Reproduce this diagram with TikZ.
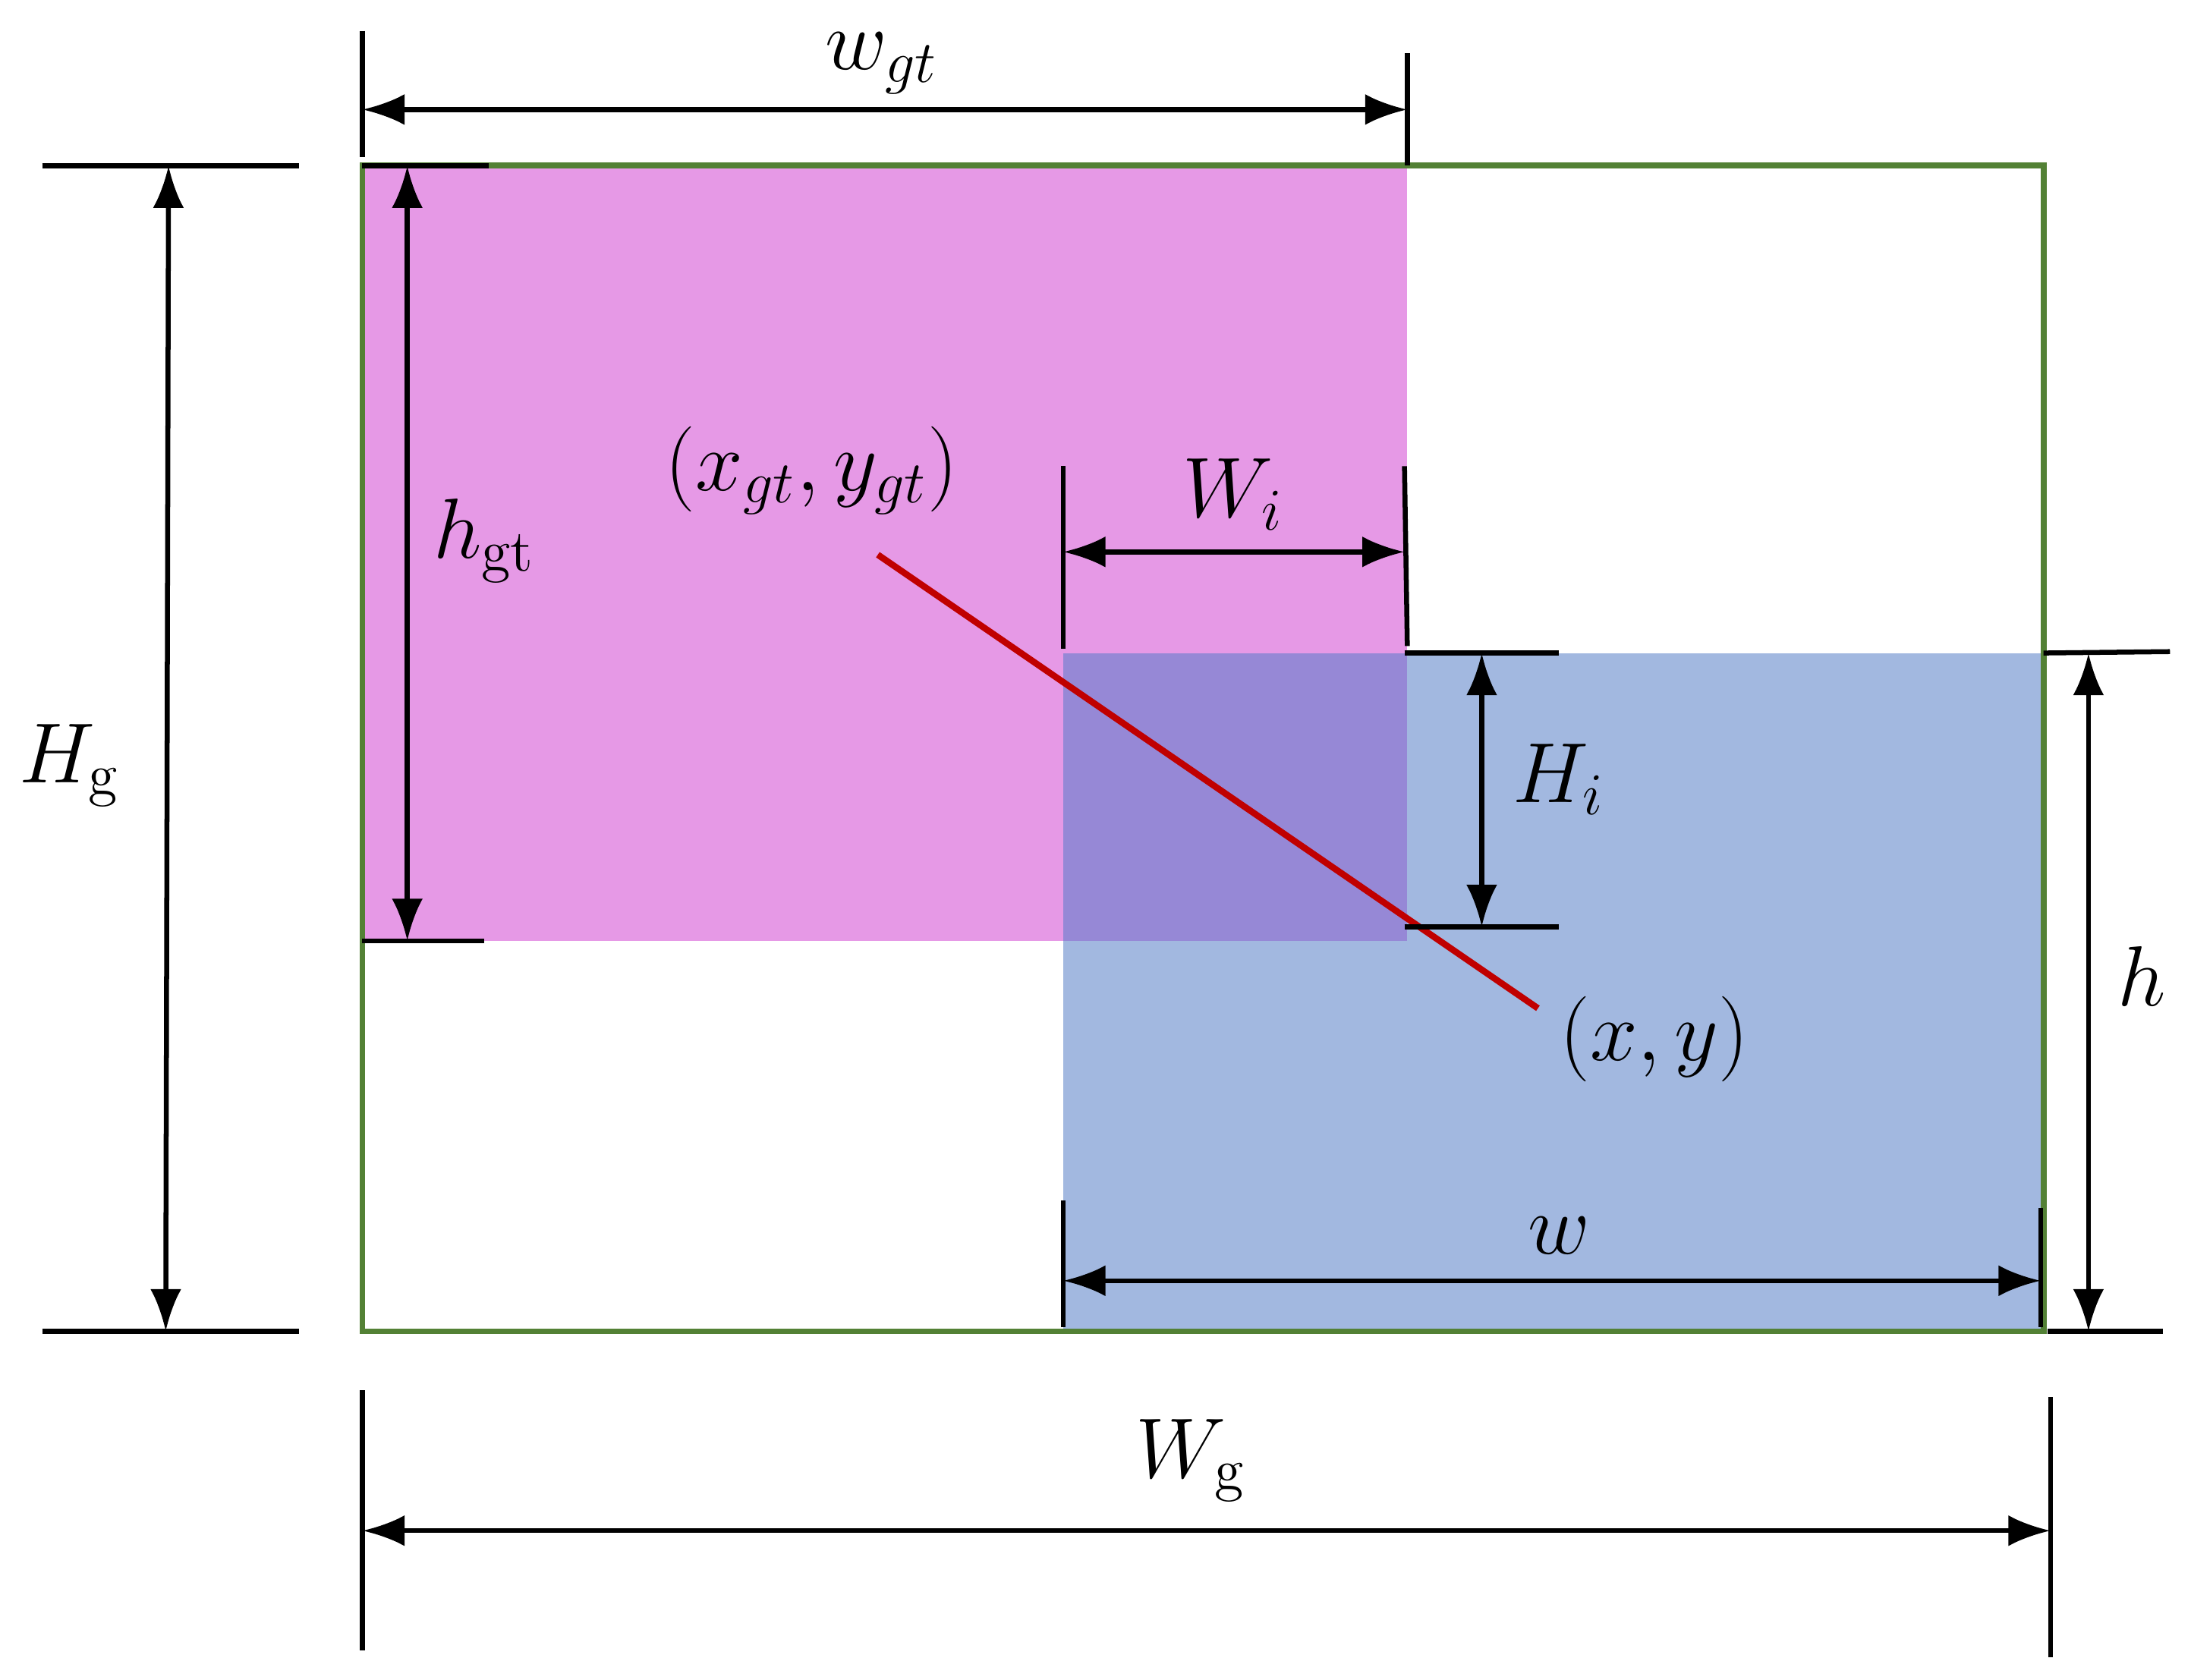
\documentclass[tikz,border=0pt]{standalone}
\usetikzlibrary{arrows.meta}
\begin{document}
\begin{tikzpicture}[x=0.01cm,y=-0.01cm,
  dim/.style={line width=1pt,{Latex[length=3mm,width=2.2mm]}-{Latex[length=3mm,width=2.2mm]}},
  tick/.style={line width=1pt},
  lab/.style={font=\fontsize{17}{20}\selectfont}]
\useasboundingbox (0,0) rectangle (1560,1196);
\definecolor{pinkc}{HTML}{E699E6}
\definecolor{bluec}{HTML}{A2B8E0}
\definecolor{overc}{HTML}{9688D6}
\definecolor{greenc}{HTML}{538135}
\definecolor{redc}{HTML}{C00000}
% boxes
\fill[pinkc] (258,118) rectangle (1002,670);
\fill[bluec] (757,465) rectangle (1455,948);
\fill[overc] (757,465) rectangle (1002,670);
\draw[greenc,line width=1.2pt] (258,118) rectangle (1455,948);
% red line
\coordinate (r1) at (625,395); \coordinate (r2) at (1095,718);
\draw[redc,line width=1.3pt] (r1) -- (r2);
% w_gt
\draw[tick] (258,22) -- (258,112); \draw[tick] (1002,38) -- (1002,118);
\coordinate (a1) at (258,78); \coordinate (a2) at (1002,78);
\draw[dim] (a1) -- (a2);
\node[lab] (wgt) at (628,45) {$w_{gt}$};
% H_g
\draw[tick] (30,118) -- (213,118); \draw[tick] (30,948) -- (213,948);
\coordinate (b1) at (120,118); \coordinate (b2) at (118,948);
\draw[dim] (b1) -- (b2);
\node[lab] (Hg) at (50,545) {$H_{\mathrm{g}}$};
% h_gt
\draw[tick] (258,118) -- (348,118); \draw[tick] (258,670) -- (345,670);
\coordinate (c1) at (290,118); \coordinate (c2) at (290,670);
\draw[dim] (c1) -- (c2);
\node[lab] (hgt) at (345,385) {$h_{\mathrm{gt}}$};
\node[lab] (xgt) at (578,335) {$(x_{gt},y_{gt})$};
% W_i
\draw[tick] (757,332) -- (757,462); \draw[tick] (1000,332) -- (1002,460);
\coordinate (d1) at (757,393); \coordinate (d2) at (1000,393);
\draw[dim] (d1) -- (d2);
\node[lab] (Wi) at (878,352) {$W_i$};
% H_i
\draw[tick] (1000,465) -- (1110,465); \draw[tick] (1000,660) -- (1110,660);
\coordinate (e1) at (1055,465); \coordinate (e2) at (1055,660);
\draw[dim] (e1) -- (e2);
\node[lab] (Hi) at (1110,555) {$H_i$};
\node[lab] (xy) at (1178,740) {$(x,y)$};
% h
\draw[tick] (1455,465) -- (1545,464); \draw[tick] (1458,948) -- (1540,948);
\coordinate (f1) at (1487,465); \coordinate (f2) at (1487,948);
\draw[dim] (f1) -- (f2);
\node[lab] (h) at (1525,695) {$h$};
% w
\draw[tick] (757,855) -- (757,945); \draw[tick] (1453,860) -- (1453,945);
\coordinate (g1) at (757,912); \coordinate (g2) at (1453,912);
\draw[dim] (g1) -- (g2);
\node[lab] (w) at (1110,880) {$w$};
% W_g
\draw[tick] (258,990) -- (258,1175); \draw[tick] (1460,995) -- (1460,1180);
\coordinate (k1) at (258,1090); \coordinate (k2) at (1460,1090);
\draw[dim] (k1) -- (k2);
\node[lab] (Wg) at (848,1040) {$W_{\mathrm{g}}$};
\end{tikzpicture}
\end{document}
